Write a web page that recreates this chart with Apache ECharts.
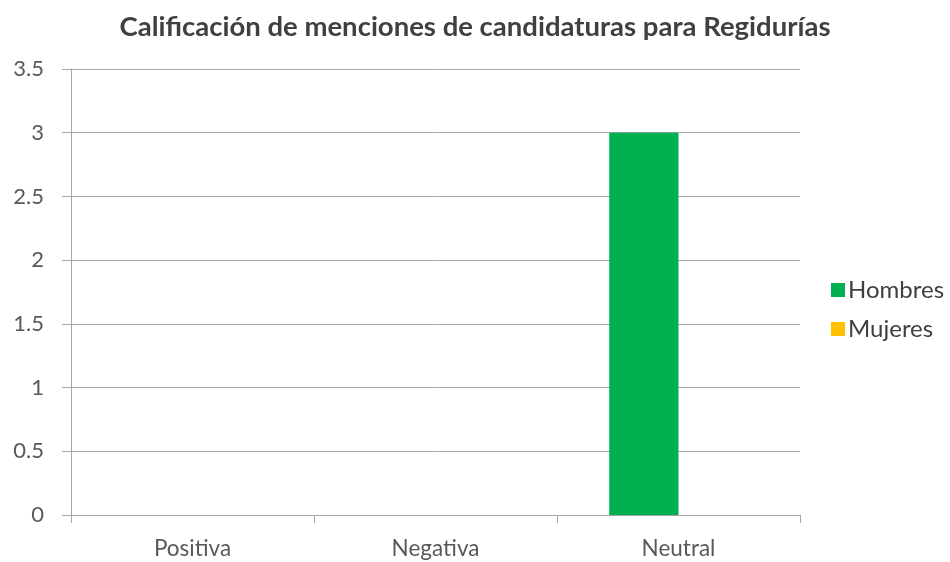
<!DOCTYPE html>
<html><head><meta charset="utf-8">
<script src="https://cdn.jsdelivr.net/npm/echarts@6/dist/echarts.min.js"></script>
<style>html,body{margin:0;padding:0;background:#fff}#c{width:950px;height:562px}</style>
</head><body><div id="c"></div>
<script>
const categories = ["Positiva", "Negativa", "Neutral"];
const hombres = [0, 0, 3];
const mujeres = [0, 0, 0];
const yTicks = [0, 0.5, 1, 1.5, 2, 2.5, 3, 3.5];

const FONT = 'Lato';
const chart = echarts.init(document.getElementById('c'));
chart.setOption({
  animation: false,
  backgroundColor: '#ffffff',
  title: {
    text: 'Calificación de menciones de candidaturas para Regidurías',
    left: 'center', top: 8,
    textStyle: { fontFamily: FONT, fontWeight: 'bold', fontSize: 27.5, color: '#404040' }
  },
  legend: {
    orient: 'vertical', left: 826, top: 273,
    itemWidth: 14, itemHeight: 14, itemGap: 15,
    icon: 'rect',
    textStyle: { fontFamily: FONT, fontSize: 24, color: '#404040', padding: [0, 0, 0, -2] },
    data: ['Hombres', 'Mujeres']
  },
  grid: { left: 71, right: 150, top: 69, bottom: 47, containLabel: false },
  xAxis: {
    type: 'category', data: categories,
    axisLine: { lineStyle: { color: '#a6a6a6' } },
    axisTick: { show: true, length: 8, lineStyle: { color: '#a6a6a6' } },
    axisLabel: { fontFamily: FONT, fontSize: 22.5, color: '#595959', margin: 22 }
  },
  yAxis: {
    type: 'value', min: 0, max: 3.5, interval: 0.5,
    axisLine: { show: true, lineStyle: { color: '#a6a6a6' } },
    axisTick: { show: true, length: 9, lineStyle: { color: '#a6a6a6' } },
    splitLine: { lineStyle: { color: '#a6a6a6' } },
    axisLabel: { fontFamily: FONT, fontSize: 22, color: '#595959', margin: 27,
      formatter: v => yTicks.includes(v) ? String(v) : '' }
  },
  series: [
    { name: 'Hombres', type: 'bar', data: hombres, itemStyle: { color: '#00b050' }, barGap: '0%', barCategoryGap: '43%' },
    { name: 'Mujeres', type: 'bar', data: mujeres, itemStyle: { color: '#ffc000' } }
  ]
});
</script></body></html>
